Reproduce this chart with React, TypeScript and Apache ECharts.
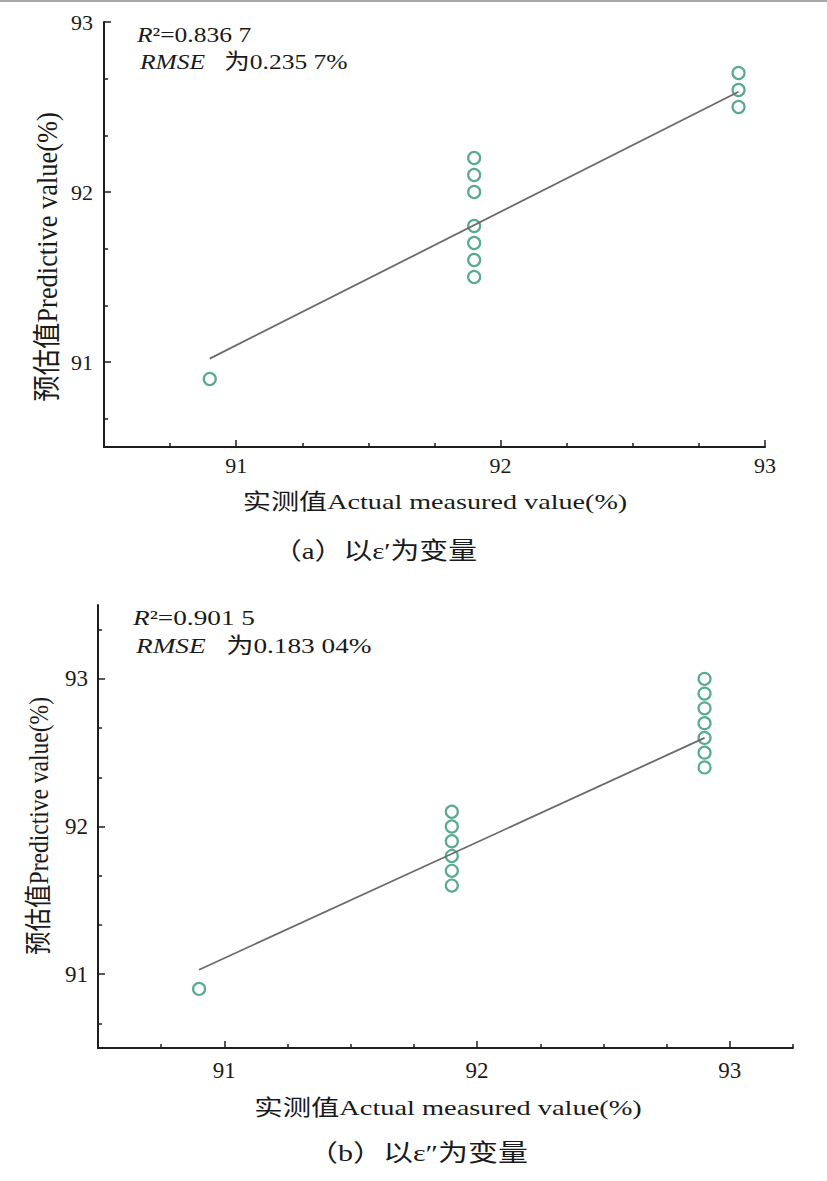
import React, { useEffect, useRef } from 'react';
import * as echarts from 'echarts';

// ---- data ----
const measuredA = [90.9, 91.9, 91.9, 91.9, 91.9, 91.9, 91.9, 91.9, 92.9, 92.9, 92.9];
const predictedA = [90.9, 92.2, 92.1, 92.0, 91.8, 91.7, 91.6, 91.5, 92.7, 92.6, 92.5];
const fitXA = [90.9, 92.9];
const fitYA = [91.02, 92.59];

const measuredB = [90.9, 91.9, 91.9, 91.9, 91.9, 91.9, 91.9, 92.9, 92.9, 92.9, 92.9, 92.9, 92.9, 92.9];
const predictedB = [90.9, 92.1, 92.0, 91.9, 91.8, 91.7, 91.6, 93.0, 92.9, 92.8, 92.7, 92.6, 92.5, 92.4];
const fitXB = [90.9, 92.9];
const fitYB = [91.03, 92.6];

const majorTicks = [91, 92, 93];
const xMinorA = [90.75, 91.25, 91.5, 91.75, 92.25, 92.5, 92.75];
const xMinorB = [90.75, 91.25, 91.5, 91.75, 92.25, 92.5, 92.75, 93.25];
const yMinorA = [90 + 2 / 3, 91 + 1 / 3, 91 + 2 / 3, 92 + 1 / 3, 92 + 2 / 3];
const yMinorB = [90 + 2 / 3, 91 + 1 / 3, 91 + 2 / 3, 92 + 1 / 3, 92 + 2 / 3, 93 + 1 / 3];

const xTitle = '实测值Actual measured value(%)';
const yTitle = '预估值Predictive value(%)';
const captionA = '（a）以ε′为变量';
const captionB = '（b）以ε″为变量';
const r2A = '0.836 7';
const rmseA = '0.235 7%';
const r2B = '0.901 5';
const rmseB = '0.183 04%';

// ---- styles ----
const FONT = 'Liberation Serif, Times New Roman, Noto Sans CJK SC, serif';
const AXIS = '#1e1e1e';
const TEXT = '#1a1a1a';
const GREEN = '#2f9673';
const FIT = '#6a6a6a';

function majorAxis(gridIndex: number, min: number, max: number, pos: string, margin: number, fs: number) {
  return {
    type: 'value', gridIndex, min, max, position: pos,
    axisLine: { show: true, onZero: false, lineStyle: { color: AXIS, width: 2 } },
    axisTick: { show: true, inside: true, length: 7, customValues: majorTicks, lineStyle: { color: AXIS, width: 1.5 } },
    axisLabel: { show: true, customValues: majorTicks, margin, fontSize: fs, fontFamily: FONT, color: TEXT },
    splitLine: { show: false },
    minorTick: { show: false },
  };
}

function minorAxis(gridIndex: number, min: number, max: number, pos: string, vals: number[]) {
  return {
    type: 'value', gridIndex, min, max, position: pos,
    axisLine: { show: false, onZero: false },
    axisTick: { show: true, inside: true, length: 4, customValues: vals, lineStyle: { color: AXIS, width: 1.5 } },
    axisLabel: { show: false },
    splitLine: { show: false },
  };
}

function pairs(xs: number[], ys: number[]) {
  return xs.map((x, i) => [x, ys[i]]);
}

function txt(text: string, x: number, y: number, fs: number, opt: any = {}) {
  return {
    type: 'text', x, y,
    scaleX: opt.scaleX ?? 1, scaleY: opt.scaleY ?? 1, rotation: opt.rotation ?? 0,
    style: {
      text, fontSize: fs, fontFamily: FONT, fill: TEXT,
      align: opt.align ?? 'center', verticalAlign: 'middle',
      rich: opt.rich,
    },
  };
}

function annot(r2: string, rmse: string, x: number, y1: number, y2: number, fs: number, sx: number) {
  const rich = {
    i: { fontStyle: 'italic', fontSize: fs, fontFamily: FONT, fill: TEXT },
    n: { fontSize: fs, fontFamily: FONT, fill: TEXT },
  };
  return [
    txt(`{i|R}{n|²=${r2}}`, x, y1, fs, { align: 'left', scaleX: sx, rich }),
    txt(`{i|RMSE}{n|   为${rmse}}`, x + 3, y2, fs, { align: 'left', scaleX: sx, rich }),
  ];
}

export default function App() {
  const ref = useRef<HTMLDivElement>(null);
  useEffect(() => {
    const chart = echarts.init(ref.current!, null, { renderer: 'svg' });
    const scatterStyle = { color: 'rgba(255,255,255,0)', borderColor: GREEN, borderWidth: 2.2 };
    chart.setOption({
      animation: false,
      backgroundColor: '#ffffff',
      grid: [
        { left: 104, top: 22, width: 661, height: 425, containLabel: false },
        { left: 98, top: 605, width: 695, height: 443, containLabel: false },
      ],
      xAxis: [
        majorAxis(0, 90.5, 93, 'bottom', 7, 22),
        minorAxis(0, 90.5, 93, 'bottom', xMinorA),
        majorAxis(1, 90.5, 93.25, 'bottom', 11, 23),
        minorAxis(1, 90.5, 93.25, 'bottom', xMinorB),
      ],
      yAxis: [
        majorAxis(0, 90.5, 93, 'left', 11, 22),
        minorAxis(0, 90.5, 93, 'left', yMinorA),
        majorAxis(1, 90.5, 93.5, 'left', 10, 23),
        minorAxis(1, 90.5, 93.5, 'left', yMinorB),
      ],
      series: [
        {
          type: 'line', xAxisIndex: 0, yAxisIndex: 0, data: pairs(fitXA, fitYA),
          symbol: 'none', lineStyle: { color: FIT, width: 1.8 }, z: 3,
        },
        {
          type: 'scatter', xAxisIndex: 0, yAxisIndex: 0, data: pairs(measuredA, predictedA),
          symbol: 'circle', symbolSize: 12, itemStyle: scatterStyle, z: 2,
        },
        {
          type: 'line', xAxisIndex: 2, yAxisIndex: 2, data: pairs(fitXB, fitYB),
          symbol: 'none', lineStyle: { color: FIT, width: 1.8 }, z: 3,
        },
        {
          type: 'scatter', xAxisIndex: 2, yAxisIndex: 2, data: pairs(measuredB, predictedB),
          symbol: 'circle', symbolSize: 12, itemStyle: scatterStyle, z: 2,
        },
      ],
      graphic: [
        { type: 'rect', shape: { x: 0, y: 0, width: 827, height: 2 }, style: { fill: '#a8a8a8' } },
        ...annot(r2A, rmseA, 137, 35, 62, 22, 1.16),
        ...annot(r2B, rmseB, 133, 617, 645, 22, 1.24),
        txt(xTitle, 435, 501, 22, { scaleX: 1.28 }),
        txt(xTitle, 448, 1107, 22, { scaleX: 1.29 }),
        txt(yTitle, 47, 257, 22, { rotation: Math.PI / 2, scaleX: 1.2, scaleY: 1.3 }),
        txt(yTitle, 39, 826, 22, { rotation: Math.PI / 2, scaleX: 1.07, scaleY: 1.25 }),
        txt(captionA, 375, 551, 24, { scaleX: 1.2 }),
        txt(captionB, 418, 1153, 24, { scaleX: 1.25 }),
      ],
    });
    return () => chart.dispose();
  }, []);
  return (
    <div
      ref={ref}
      style={{ position: 'absolute', left: 0, top: 0, width: 827, height: 1181, background: '#fff' }}
    />
  );
}
